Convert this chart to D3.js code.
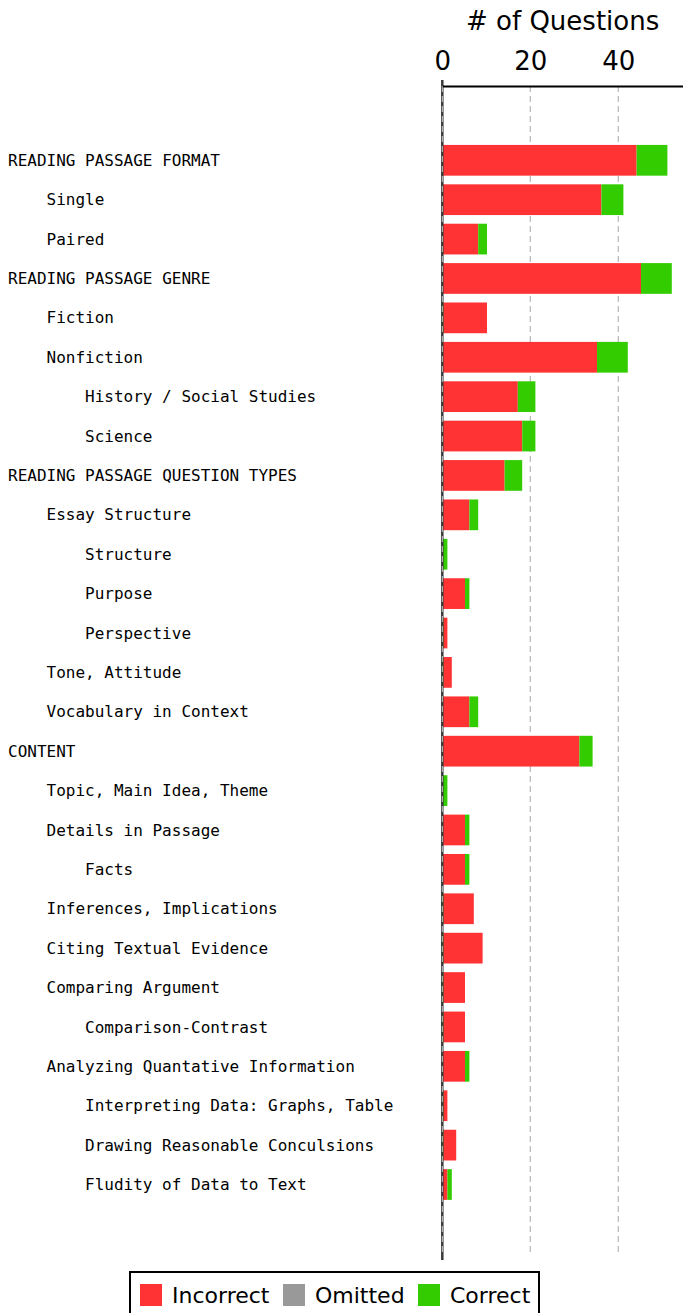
<html>
<head>
  <title>Questions by category</title>
  <script src="https://d3js.org/d3.v7.min.js"></script>
  <style>
    body { margin: 0; background: #fff; }
  </style>
</head>
<body>
  <script>

	// row labels, indent level and counts per row
	var categories = [
	  'READING PASSAGE FORMAT', 'Single', 'Paired',
	  'READING PASSAGE GENRE', 'Fiction', 'Nonfiction', 'History / Social Studies', 'Science',
	  'READING PASSAGE QUESTION TYPES', 'Essay Structure', 'Structure', 'Purpose', 'Perspective',
	  'Tone, Attitude', 'Vocabulary in Context',
	  'CONTENT', 'Topic, Main Idea, Theme', 'Details in Passage', 'Facts',
	  'Inferences, Implications', 'Citing Textual Evidence', 'Comparing Argument',
	  'Comparison-Contrast', 'Analyzing Quantative Information',
	  'Interpreting Data: Graphs, Table', 'Drawing Reasonable Conculsions', 'Fludity of Data to Text'
	];
	var levels    = [0,1,1, 0,1,1,2,2, 0,1,2,2,2,1,1, 0,1,1,2,1,1,1,2,1,2,2,2];
	var incorrect = [44,36,8, 45,10,35,17,18, 14,6,0,5,1,2,6, 31,0,5,5,7,9,5,5,5,1,3,1];
	var omitted   = [0,0,0, 0,0,0,0,0, 0,0,0,0,0,0,0, 0,0,0,0,0,0,0,0,0,0,0,0];
	var correct   = [7,5,2, 7,0,7,4,3, 4,2,1,1,0,0,2, 3,1,1,1,0,0,0,0,1,0,0,1];
	var xTicks = [0, 20, 40];

	var keys = ['incorrect', 'omitted', 'correct'];
	var names = ['Incorrect', 'Omitted', 'Correct'];
	var colors = { incorrect: '#ff3333', omitted: '#999999', correct: '#33cc00' };

	var table = categories.map(function(c, i){
	  return { label: c, level: levels[i], incorrect: incorrect[i], omitted: omitted[i], correct: correct[i] };
	});

	var W = 683, H = 1313;
	var svg = d3.select('body')
	            .append('svg')
	              .attr('width', W)
	              .attr('height', H);

	var x = d3.scaleLinear().domain([0, 55]).range([442.3, 684.3]);
	var y = d3.scaleBand().domain(d3.range(categories.length))
	          .range([140.6, 1204.2]).paddingInner(0.22).paddingOuter(0.11);

	var axisTop = 86, plotBottom = 1260;

	// dashed grid
	svg.append('g')
	  .selectAll('line')
	  .data(xTicks.filter(function(d){ return d > 0; }))
	  .enter().append('line')
	    .attr('x1', function(d){ return x(d); })
	    .attr('x2', function(d){ return x(d); })
	    .attr('y1', axisTop)
	    .attr('y2', plotBottom - 4)
	    .attr('stroke', '#bbbbbb')
	    .attr('stroke-width', 1.3)
	    .attr('stroke-dasharray', '6,4');

	// stacked bars
	var series = d3.stack().keys(keys)(table);
	svg.append('g')
	  .selectAll('g')
	  .data(series)
	  .enter().append('g')
	    .attr('fill', function(s){ return colors[s.key]; })
	  .selectAll('rect')
	  .data(function(s){ return s.map(function(d, i){ return { key: s.key, d: d, i: i }; }); })
	  .enter().append('rect')
	    .attr('x', function(o){
	      // empty "correct" segments show as a thin sliver at the baseline
	      if (o.d[1] - o.d[0] === 0) return x(0) - 1;
	      return x(o.d[0]) + 0.7;
	    })
	    .attr('width', function(o){
	      if (o.d[1] - o.d[0] === 0) return o.key === 'correct' ? 2 : 0;
	      return x(o.d[1]) - x(o.d[0]);
	    })
	    .attr('y', function(o){ return y(o.i); })
	    .attr('height', y.bandwidth());

	// spine at zero
	svg.append('line')
	  .attr('x1', x(0)).attr('x2', x(0))
	  .attr('y1', axisTop - 6).attr('y2', plotBottom)
	  .attr('stroke', '#3a3a3a').attr('stroke-width', 2.5);
	svg.append('line')
	  .attr('x1', x(0)).attr('x2', x(0))
	  .attr('y1', axisTop).attr('y2', plotBottom - 4)
	  .attr('stroke', '#c8c8c8').attr('stroke-width', 1)
	  .attr('stroke-dasharray', '6,4');

	// top axis
	var axis = svg.append('g')
	  .attr('transform', 'translate(0,' + axisTop + ')')
	  .call(d3.axisTop(x).tickValues(xTicks).tickSize(0).tickPadding(16).tickFormat(d3.format('d')));
	axis.select('.domain').attr('stroke', '#000').attr('stroke-width', 2.2);
	axis.selectAll('text')
	  .attr('font-family', 'DejaVu Sans')
	  .attr('font-size', 26)
	  .attr('fill', '#000');

	svg.append('text')
	  .attr('x', (x.range()[0] + W) / 2)
	  .attr('y', 30)
	  .attr('text-anchor', 'middle')
	  .attr('font-family', 'DejaVu Sans')
	  .attr('font-size', 26)
	  .text('# of Questions');

	// row labels
	var charW = 16 * 0.602;
	svg.append('g')
	  .selectAll('text')
	  .data(table)
	  .enter().append('text')
	    .attr('x', function(d){ return 8 + d.level * 4 * charW; })
	    .attr('y', function(d, i){ return y(i) + y.bandwidth() / 2; })
	    .attr('dy', '0.35em')
	    .attr('font-family', 'DejaVu Sans Mono')
	    .attr('font-size', 16)
	    .attr('fill', '#000')
	    .text(function(d){ return d.label; });

	// legend
	var legend = svg.append('g');
	legend.append('rect')
	  .attr('x', 130).attr('y', 1272)
	  .attr('width', 409).attr('height', 50)
	  .attr('fill', '#fff').attr('stroke', '#000').attr('stroke-width', 2);
	var legendX = [140, 283, 418];
	var item = legend.selectAll('g.item')
	  .data(keys)
	  .enter().append('g')
	    .attr('class', 'item')
	    .attr('transform', function(k, i){ return 'translate(' + legendX[i] + ',1284)'; });
	item.append('rect')
	  .attr('width', 22).attr('height', 22)
	  .attr('fill', function(k){ return colors[k]; });
	item.append('text')
	  .attr('x', 32).attr('y', 19)
	  .attr('font-family', 'DejaVu Sans')
	  .attr('font-size', 22)
	  .text(function(k, i){ return names[i]; });

  </script>
</body>
</html>
